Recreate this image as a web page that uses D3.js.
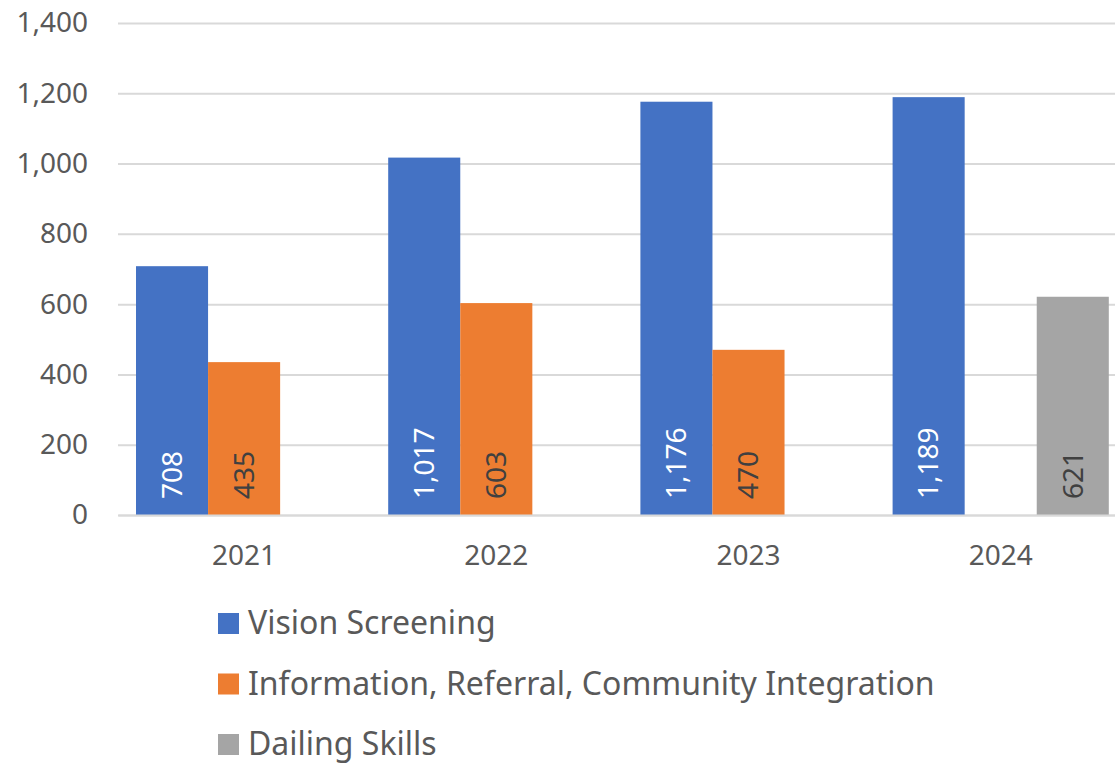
<!DOCTYPE html>
<html>
<head>
<meta charset="utf-8">
<script src="https://cdn.jsdelivr.net/npm/d3@7"></script>
<style>
  body { margin: 0; background: #fff; }
  text { font-family: "Noto Sans", sans-serif; }
</style>
</head>
<body>
<div class="chart"></div>
<script>
const width = 1115
const height = 763

const years = ["2021", "2022", "2023", "2024"]
const seriesNames = ["Vision Screening", "Information, Referral, Community Integration", "Dailing Skills"]
const visionScreening = [708, 1017, 1176, 1189]
const infoReferral = [435, 603, 470, null]
const dailingSkills = [null, null, null, 621]
const yTicks = [0, 200, 400, 600, 800, 1000, 1200, 1400]

const colors = ["#4472C4", "#ED7D31", "#A5A5A5"]
const labelColors = ["#ffffff", "#404040", "#404040"]
const textColor = "#595959"

const allSeries = [visionScreening, infoReferral, dailingSkills]

const svg = d3.select(".chart")
    .append("svg")
    .attr("width", width)
    .attr("height", height)

const xScale = d3.scaleBand()
    .domain(years)
    .range([118, 118 + 4 * 252.2])

const xInner = d3.scaleBand()
    .domain(d3.range(seriesNames.length))
    .range([18, xScale.bandwidth() - 18])

const yScale = d3.scaleLinear()
    .domain([0, 1400])
    .range([515, 23])

// gridlines
const yAxis = d3.axisLeft(yScale)
    .tickValues(yTicks)
    .tickSize(-(width - 118 + 20))
    .tickFormat(d3.format(","))

svg.append("g")
    .attr("class", "y-axis")
    .attr("transform", "translate(118,0)")
    .call(yAxis)
    .call(g => g.select(".domain").remove())
    .call(g => g.selectAll("line").attr("stroke", "#D9D9D9").attr("stroke-width", 2))
    .call(g => g.selectAll("text")
        .attr("x", -30)
        .attr("fill", textColor)
        .style("font-size", "28px"))

// bars
allSeries.forEach(function(values, si) {
    const rows = years.map((y, i) => ({ year: y, value: values[i] })).filter(d => d.value != null)
    const g = svg.append("g")
    g.selectAll("rect")
        .data(rows)
        .join("rect")
        .attr("x", d => xScale(d.year) + xInner(si))
        .attr("y", d => yScale(d.value))
        .attr("width", xInner.bandwidth())
        .attr("height", d => yScale(0) - yScale(d.value))
        .attr("fill", colors[si])
    g.selectAll("text")
        .data(rows)
        .join("text")
        .attr("transform", d => "translate(" + (xScale(d.year) + xInner(si) + xInner.bandwidth() / 2) + "," + (yScale(0) - 16) + ") rotate(-90)")
        .attr("dy", "0.35em")
        .attr("fill", labelColors[si])
        .style("font-size", "28px")
        .text(d => d3.format(",")(d.value))
})

// x axis
const xAxis = d3.axisBottom(xScale).tickSize(0)
svg.append("g")
    .attr("class", "x-axis")
    .attr("transform", "translate(0,515)")
    .call(xAxis)
    .call(g => g.select(".domain").attr("stroke", "#D9D9D9").attr("stroke-width", 2))
    .call(g => g.selectAll("text")
        .attr("y", 30)
        .attr("dy", "0.71em")
        .attr("fill", textColor)
        .style("font-size", "28px"))

// legend
const legend = svg.append("g")
    .selectAll("g")
    .data(seriesNames)
    .join("g")
    .attr("transform", (d, i) => "translate(218," + (613 + i * 60.5) + ")")

legend.append("rect")
    .attr("width", 21)
    .attr("height", 21)
    .attr("fill", (d, i) => colors[i])

legend.append("text")
    .attr("x", 30)
    .attr("y", 21)
    .attr("fill", textColor)
    .style("font-size", "32px")
    .text(d => d)
</script>
</body>
</html>
